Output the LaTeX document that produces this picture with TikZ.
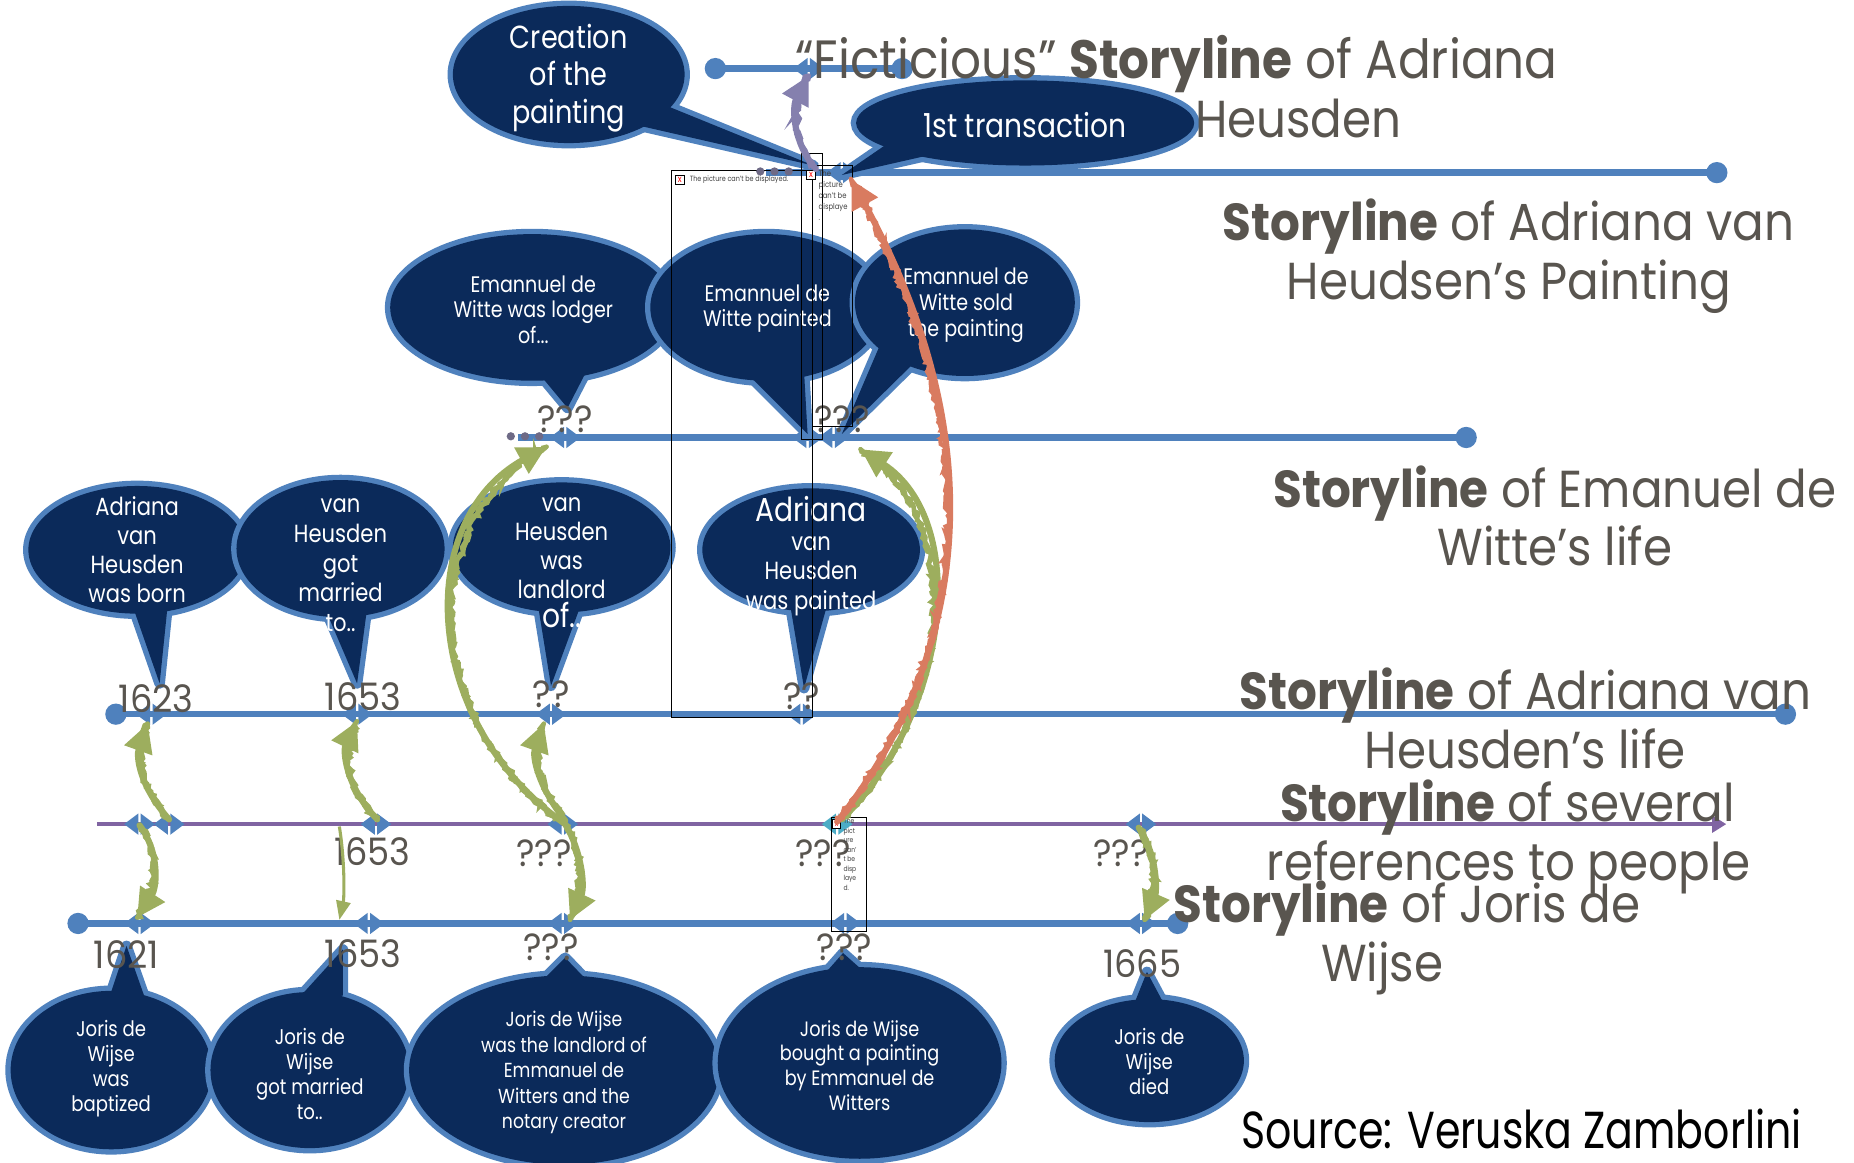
\documentclass[tikz,border=0pt]{standalone}
\usepackage{fontspec}
\setmainfont{Poppins}[FakeStretch=0.85]
\newfontfamily\headfont{Poppins}[FakeStretch=0.9]
\newfontfamily\yearfont{Poppins}[FakeStretch=0.93]
\newfontfamily\srcfont{Poppins}[FakeStretch=0.79]
\usetikzlibrary{arrows.meta,decorations.pathmorphing}
\definecolor{tlblue}{HTML}{4F81BD}
\definecolor{navy}{HTML}{0B2A5A}
\definecolor{ink}{HTML}{59554F}
\definecolor{refpurple}{HTML}{8064A2}
\definecolor{evtcyan}{HTML}{4BACC6}
\definecolor{sketchgreen}{HTML}{9DAE5E}
\definecolor{sketchred}{HTML}{D97B60}
\definecolor{sketchpurple}{HTML}{8580AE}
\definecolor{dotgray}{HTML}{6E6A86}

% speech bubble: centre, x radius, y radius, tail base, tail tip, tail base
\newcommand\bubble[6]{%
  \draw[tlblue, line width=4.5pt] (#1) ellipse [x radius=#2, y radius=#3];
  \draw[tlblue, line width=4.5pt, line join=round] (#4) -- (#5) -- (#6);
  \fill[navy] (#1) ellipse [x radius=#2, y radius=#3];
  \fill[navy] (#4) -- (#5) -- (#6) -- cycle;
}
% hand-drawn arrow: smooth stroke with tip plus rough overlays
\newcommand\sketcharrow[2]{%
  \draw[sketch,#1] #2;
  \draw[rough,#1] #2;
  \draw[rough,#1,decoration={random steps, segment length=1.5pt, amplitude=1.1pt}] #2;
}

\begin{document}
\begin{tikzpicture}[x=0.5pt,y=-0.5pt,
  timeline/.style={draw=tlblue, line width=2.8pt},
  enddot/.style={circle, fill=tlblue, minimum size=9pt, inner sep=0pt},
  title/.style={anchor=base, text=ink, font=\headfont\fontsize{22}{26}\selectfont, inner sep=0pt},
  yearlbl/.style={anchor=base, text=ink, font=\yearfont\fontsize{16}{18}\selectfont, inner sep=0pt},
  btext/.style={text=white, align=center, inner sep=0pt},
  sketch/.style={line width=2.6pt, line cap=round, -{Triangle[length=12pt,width=12pt]}},
  rough/.style={line width=1.8pt, line cap=round, decorate,
    decoration={random steps, segment length=2pt, amplitude=1.3pt}},
  evt/.pic={\fill (-13,0) -- (-1,-9) -- (-1,9) -- cycle;
            \fill (13,0) -- (1,-9) -- (1,9) -- cycle;},
  placeholder/.style={draw=black, line width=0.4pt},
  phtext/.style={inner sep=0pt, text=black!75, align=left},
]
\useasboundingbox (0,0) rectangle (1568,983);

% ---------- storylines ----------
\node[enddot] (f0) at (605,58) {};
\node[enddot] (f1) at (763,58) {};
\draw[timeline] (f0.center) -- (f1.center);

\coordinate (p0) at (648,146);
\node[enddot] (p1) at (1452,146) {};
\draw[timeline] (p0) -- (p1.center);

\coordinate (e0) at (438,370);
\node[enddot] (e1) at (1240,370) {};
\draw[timeline] (e0) -- (e1.center);

\node[enddot] (a0) at (98,604) {};
\node[enddot] (a1) at (1510,604) {};
\draw[timeline] (a0.center) -- (a1.center);

\coordinate (r0) at (82,697);
\coordinate (r1) at (1460,697);
\draw[refpurple, line width=2pt, -{Triangle[length=6pt,width=7pt]}] (r0) -- (r1);

\node[enddot] (j0) at (66,781) {};
\node[enddot] (j1) at (996,781) {};
\draw[timeline] (j0.center) -- (j1.center);

% ---------- event markers ----------
\coordinate (m1a) at (684,58);
\coordinate (m2a) at (712,146);
\coordinate (m3a) at (478,370);
\coordinate (m3b) at (683,370);
\coordinate (m3c) at (705,370);
\coordinate (m4a) at (128,604);
\coordinate (m4b) at (302,604);
\coordinate (m4c) at (466,604);
\coordinate (m4d) at (678,604);
\coordinate (m5a) at (118,697);
\coordinate (m5b) at (143,697);
\coordinate (m5c) at (318,697);
\coordinate (m5d) at (476,697);
\coordinate (m5e) at (708,697);
\coordinate (m5f) at (965,697);
\coordinate (m6a) at (118,781);
\coordinate (m6b) at (312,781);
\coordinate (m6c) at (476,781);
\coordinate (m6d) at (715,781);
\coordinate (m6e) at (965,781);
\foreach \m in {m1a,m2a,m3a,m3b,m3c,m4a,m4b,m4c,m4d,m5a,m5b,m5c,m5d,m5f,m6a,m6b,m6c,m6d,m6e}
  \pic[color=tlblue] at (\m) {evt};
\pic[color=evtcyan] at (m5e) {evt};

% ---------- speech bubbles ----------
\bubble{481,63}{98}{58}{535,105}{688,140}{565,90}
\node[btext, font=\fontsize{13.5}{16}\selectfont] (creation) at (481,66) {Creation\\of the\\painting};

\bubble{867,104}{143}{36}{760,115}{712,148}{800,128}
\node[btext, font=\fontsize{14}{15}\selectfont] (trans) at (867,106) {1st transaction};

\bubble{450,260}{120}{62}{455,315}{480,345}{497,312}
\node[btext, font=\fontsize{9.5}{10.8}\selectfont] (lodger) at (451,262) {Emannuel de\\Witte was lodger\\of...};

\bubble{648,260}{98}{62}{632,316}{683,367}{680,314}
\node[btext, font=\fontsize{9.5}{10.5}\selectfont] (epaint) at (649,261) {Emannuel de\\Witte painted};

\bubble{816,256}{93}{62}{745,290}{712,367}{775,305}
\node[btext, font=\fontsize{9.5}{11}\selectfont] (esold) at (817,258) {Emannuel de\\Witte sold\\the painting};

\bubble{116,465}{92}{54}{112,512}{135,578}{142,510}
\node[btext, font=\fontsize{10.5}{12.2}\selectfont] (born) at (116,465) {Adriana\\van\\Heusden\\was born};

\bubble{288,464}{88}{58}{275,515}{302,578}{310,518}
\node[btext, font=\fontsize{10.5}{12.6}\selectfont] (amarried) at (288,478) {van\\Heusden\\got\\married\\to..};

\bubble{475,463}{92}{55}{455,512}{466,580}{490,515}
\node[btext, font=\fontsize{10.5}{12.2}\selectfont] (alandlord) at (475,476) {van\\Heusden\\was\\landlord\\{\fontsize{14}{14}\selectfont of..}};

\bubble{686,465}{92}{52}{668,510}{680,582}{700,510}
\node[btext, font=\fontsize{10.5}{12.4}\selectfont] (apainted) at (686,470) {{\fontsize{14}{14}\selectfont Adriana}\\van\\Heusden\\was painted};

\bubble{94,905}{85}{67}{92,845}{107,800}{124,848}
\node[btext, font=\fontsize{9}{10.6}\selectfont] (baptized) at (94,904) {Joris de\\Wijse\\was\\baptized};

\bubble{262,905}{84}{66}{250,847}{290,803}{290,842}
\node[btext, font=\fontsize{9}{10.6}\selectfont] (jmarried) at (262,908) {Joris de\\Wijse\\got married\\to..};

\bubble{477,905}{131}{80}{450,838}{478,810}{505,838}
\node[btext, font=\fontsize{8.6}{10.8}\selectfont] (jlandlord) at (477,907) {Joris de Wijse\\was the landlord of\\Emmanuel de\\Witters and the\\notary creator};

\bubble{727,899}{120}{81}{690,832}{713,806}{740,830}
\node[btext, font=\fontsize{8.8}{10.4}\selectfont] (bought) at (727,901) {Joris de Wijse\\bought a painting\\by Emmanuel de\\Witters};

\bubble{972,897}{80}{52}{958,852}{970,822}{986,852}
\node[btext, font=\fontsize{9}{10.6}\selectfont] (died) at (972,898) {Joris de\\Wijse\\died};

% ---------- storyline titles ----------
\node[title, font=\headfont\fontsize{22.8}{26}\selectfont] (t1a) at (995,66) {“Ficticious” \textbf{Storyline} of Adriana};
\node[title] (t1b) at (1098,116) {Heusden};
\node[title] (t2a) at (1276,203) {\textbf{Storyline} of Adriana van};
\node[title] (t2b) at (1276,253) {Heudsen’s Painting};
\node[title] (t3a) at (1315,429) {\textbf{Storyline} of Emanuel de};
\node[title] (t3b) at (1315,478) {Witte’s life};
\node[title] (t4a) at (1290,600) {\textbf{Storyline} of Adriana van};
\node[title] (t4b) at (1290,650) {Heusden’s life};
\node[title] (t5a) at (1275,695) {\textbf{Storyline} of several};
\node[title] (t5b) at (1276,745) {references to people};
\node[title] (t6a) at (1190,780) {\textbf{Storyline} of Joris de};
\node[title] (t6b) at (1169,830) {Wijse};
\node[title, text=black, font=\srcfont\fontsize{22}{26}\selectfont] (src) at (1287,971) {Source: Veruska Zamborlini};

% ---------- dates ----------
\node[yearlbl] (y4a) at (132,603) {1623};
\node[yearlbl] (y4b) at (307,601) {1653};
\node[yearlbl] (y4c) at (466,598) {??};
\node[yearlbl] (y4d) at (678,600) {??};
\node[yearlbl] (y3a) at (478,366) {???};
\node[yearlbl] (y3b) at (712,366) {???};
\node[yearlbl] (y5a) at (315,732) {1653};
\node[yearlbl] (y5b) at (460,733) {???};
\node[yearlbl] (y5c) at (696,733) {???};
\node[yearlbl] (y5d) at (948,733) {???};
\node[yearlbl] (y6a) at (107,819) {1621};
\node[yearlbl] (y6b) at (307,818) {1653};
\node[yearlbl] (y6c) at (466,812) {???};
\node[yearlbl] (y6d) at (714,812) {???};
\node[yearlbl] (y6e) at (966,827) {1665};

% ---------- missing-image frames ----------
\draw[placeholder] (568,144) rectangle (687,607);
\draw[placeholder] (677.5,130) rectangle (696,372);
\draw[placeholder] (687,140) rectangle (721,361);
\draw[placeholder] (703,691) rectangle (733,788);
\draw[placeholder, fill=white] (571,148) rectangle (579,156);
\node[text=red, inner sep=0pt, font=\fontsize{4}{4}\selectfont] (ix1) at (575,152) {x};
\node[phtext, anchor=west, font=\fontsize{3.2}{4}\selectfont] (ph1) at (583,152) {The picture can't be displayed.};
\draw[placeholder, fill=white] (682,144) rectangle (690,152);
\node[text=red, inner sep=0pt, font=\fontsize{4}{4}\selectfont] (ix2) at (686,148) {x};
\node[phtext, anchor=north west, font=\fontsize{3.4}{4.6}\selectfont] (ph2) at (692,144) {The\\picture\\can't be\\displaye\\.};
\draw[placeholder, fill=white] (704,693) rectangle (711,701);
\node[text=red, inner sep=0pt, font=\fontsize{3.5}{3.5}\selectfont] (ix3) at (707.5,697) {x};
\node[phtext, anchor=north west, font=\fontsize{3}{4}\selectfont] (ph3) at (713,692) {The\\pict\\ure\\can'\\t be\\disp\\laye\\d.};

% ---------- small dots ----------
\foreach \x in {643,655,667} \fill[dotgray] (\x,145) circle [radius=3.5];
\foreach \x in {432,444,456} \fill[dotgray] (\x,369) circle [radius=3.5];

% ---------- hand-drawn links between storylines ----------
\coordinate (g1s) at (143,693); \coordinate (g1e) at (125,612);
\coordinate (g2s) at (118,698); \coordinate (g2e) at (116,776);
\coordinate (g3s) at (319,693); \coordinate (g3e) at (302,610);
\coordinate (g4s) at (287,699); \coordinate (g4e) at (287,778);
\coordinate (g5s) at (478,694); \coordinate (g5e) at (460,612);
\coordinate (g6s) at (478,697); \coordinate (g6e) at (462,378);
\coordinate (g7s) at (478,697); \coordinate (g7e) at (482,778);
\coordinate (g8s) at (712,693); \coordinate (g8e) at (728,380);
\coordinate (g9s) at (708,695); \coordinate (g9e) at (720,152);
\coordinate (g10s) at (690,143); \coordinate (g10e) at (684,64);
\coordinate (g11s) at (963,700); \coordinate (g11e) at (968,778);

\sketcharrow{sketchgreen}{(g1s) .. controls (118,665) and (115,640) .. (g1e)}
\sketcharrow{sketchgreen}{(g2s) .. controls (135,720) and (133,750) .. (g2e)}
\sketcharrow{sketchgreen}{(g3s) .. controls (292,665) and (290,635) .. (g3e)}
\draw[sketchgreen, line width=1.3pt, -{Triangle[length=8pt,width=6pt]}] (g4s) .. controls (292,730) and (291,760) .. (g4e);
\sketcharrow{sketchgreen}{(g5s) .. controls (455,665) and (450,640) .. (g5e)}
\sketcharrow{sketchgreen}{(g6s) .. controls (355,610) and (350,440) .. (g6e)}
\sketcharrow{sketchgreen}{(g7s) .. controls (492,720) and (495,750) .. (g7e)}
\sketcharrow{sketchgreen}{(g8s) .. controls (805,600) and (820,440) .. (g8e)}
\sketcharrow{sketchred}{(g9s) .. controls (815,560) and (845,380) .. (g9e)}
\sketcharrow{sketchpurple}{(g10s) .. controls (670,120) and (670,90) .. (g10e)}
\sketcharrow{sketchgreen}{(g11s) .. controls (980,725) and (978,755) .. (g11e)}
\end{tikzpicture}
\end{document}
